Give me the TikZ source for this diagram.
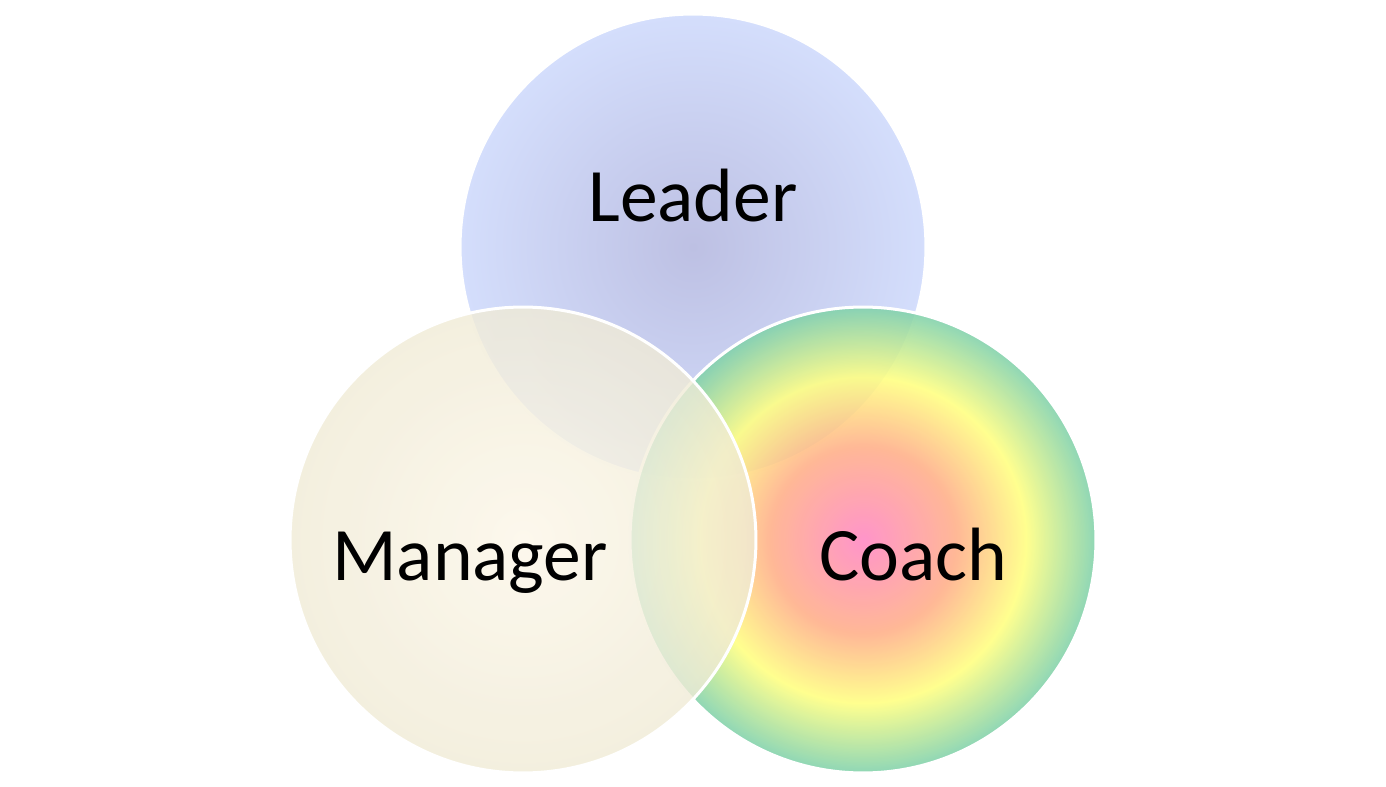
\documentclass[tikz,border=0pt]{standalone}
\usepackage{fontspec}
\setmainfont{Carlito}
\usetikzlibrary{positioning}
\definecolor{ldCore}{HTML}{BDC0E3}
\definecolor{ldEdge}{HTML}{D4DEFC}
\definecolor{mgCore}{HTML}{FCF6E8}
\definecolor{mgEdge}{HTML}{F0EBD6}
\definecolor{chPink}{HTML}{FF86C2}
\definecolor{chOrange}{HTML}{FFAE88}
\definecolor{chYellow}{HTML}{FFFF80}
\definecolor{chGreen}{HTML}{7FD1AC}
\pgfdeclareradialshading{leaderShade}{\pgfpoint{0bp}{0bp}}{%
  color(0bp)=(ldCore); color(25bp)=(ldEdge); color(50bp)=(ldEdge)}
\pgfdeclareradialshading{managerShade}{\pgfpoint{0bp}{0bp}}{%
  color(0bp)=(mgCore); color(25bp)=(mgEdge); color(50bp)=(mgEdge)}
\pgfdeclareradialshading{coachShade}{\pgfpoint{0bp}{0bp}}{%
  color(0bp)=(chPink); color(10bp)=(chOrange); color(17.5bp)=(chYellow);
  color(25bp)=(chGreen); color(50bp)=(chGreen)}
\tikzset{
  venn/.style  = {circle, minimum size=9.32cm, inner sep=0pt,
                  draw=white, line width=0.06cm},
  lbl/.style   = {anchor=base, font=\fontsize{43}{50}\selectfont, black},
}

\begin{document}
\begin{tikzpicture}[x=0.02cm, y=-0.02cm]
\useasboundingbox (0,0) rectangle (1386,787);

% ---- circles: leader below, coach over it, manager on top ---------------
\node[venn, shading=leaderShade] (leader) at (693,247) {};
\node[venn, shading=coachShade, fill opacity=0.88] (coach) at (863,540) {};
\node[venn, shading=managerShade, fill opacity=0.8] (manager) at (523,540) {};

% ---- labels ---------------------------------------------------------------
\node[lbl] (leaderTxt)  at (693,222) {Leader};
\node[lbl] (managerTxt) at (470,580) {Manager};
\node[lbl] (coachTxt)   at (913,580) {Coach};

\end{tikzpicture}
\end{document}
